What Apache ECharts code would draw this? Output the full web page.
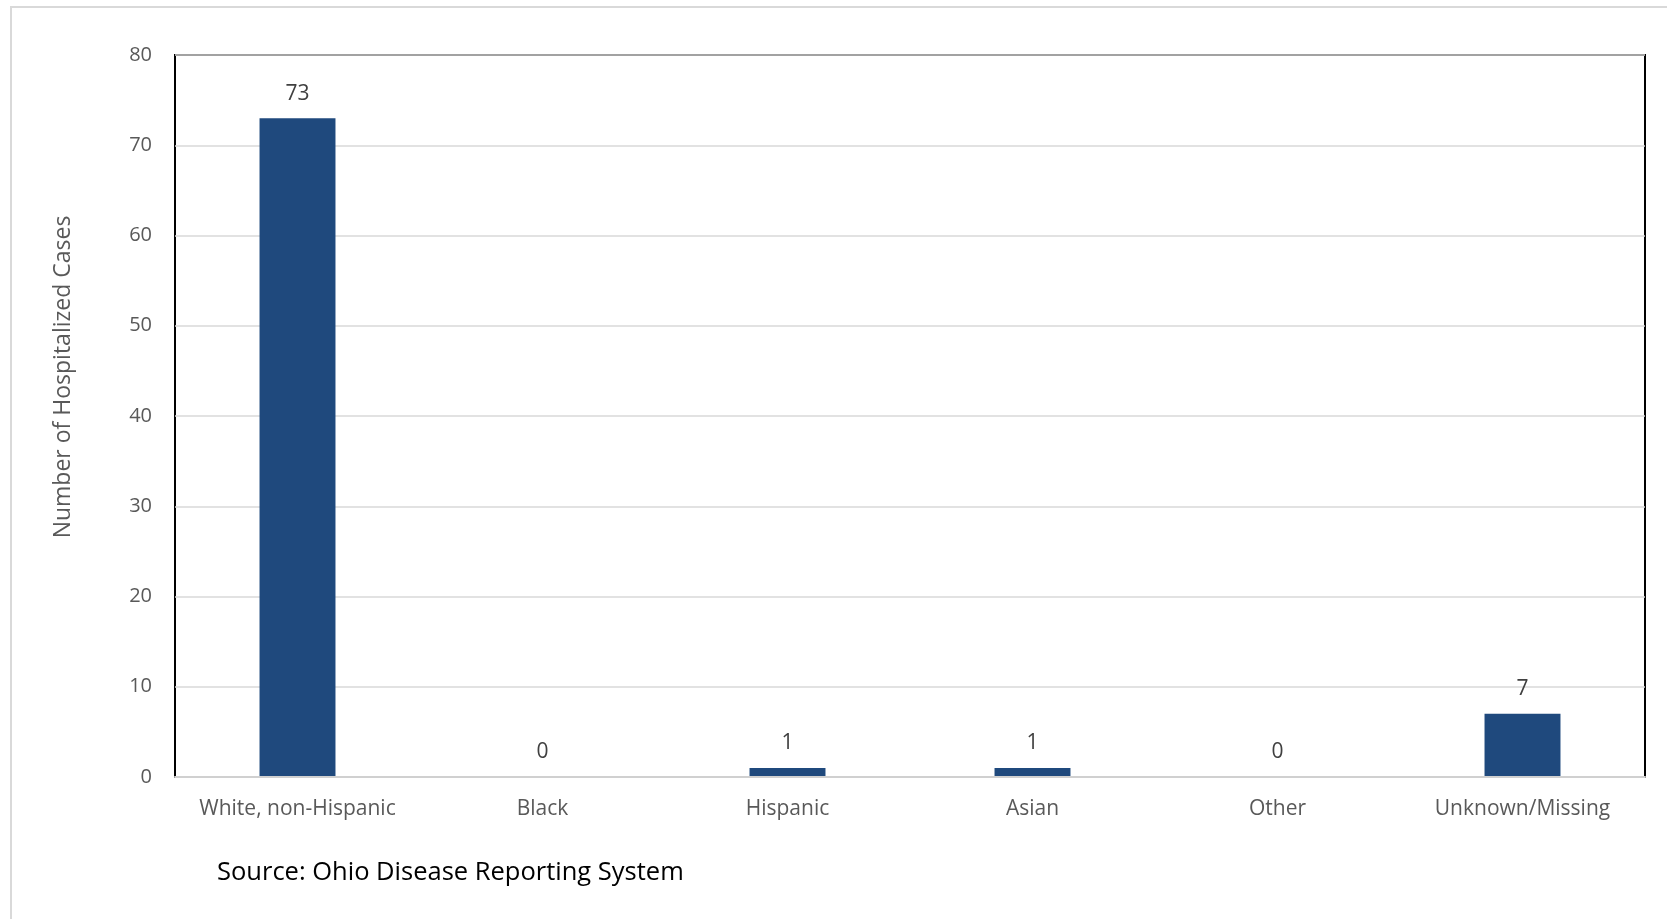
<!DOCTYPE html>
<html>
<head>
<meta charset="utf-8">
<script src="https://cdn.jsdelivr.net/npm/echarts@6/dist/echarts.min.js"></script>
<style>html,body{margin:0;padding:0;background:#fff}#c{width:1667px;height:919px}</style>
</head>
<body>
<div id="c"></div>
<script>
const categories = ["White, non-Hispanic", "Black", "Hispanic", "Asian", "Other", "Unknown/Missing"];
const hospitalized = [73, 0, 1, 1, 0, 7];
const yTicks = { min: 0, max: 80, interval: 10 };
const yAxisTitle = "Number of Hospitalized Cases";
const sourceText = "Source: Ohio Disease Reporting System";

const chart = echarts.init(document.getElementById('c'), null, { renderer: 'canvas' });
const FONT = '"Open Sans", "Noto Sans", sans-serif';
chart.setOption({
  animation: false,
  backgroundColor: '#fff',
  grid: { left: 175, right: 22, top: 55, bottom: 142, show: true, borderColor: '#000', borderWidth: 2, backgroundColor: 'transparent' },
  xAxis: {
    type: 'category', data: categories,
    axisLine: { show: true, lineStyle: { color: '#d0d0d0', width: 2 } },
    axisTick: { show: false },
    axisLabel: { color: '#595959', fontFamily: FONT, fontSize: 21, margin: 22, interval: 0, hideOverlap: false },
    z: 5
  },
  yAxis: {
    type: 'value', min: yTicks.min, max: yTicks.max, interval: yTicks.interval,
    axisLine: { show: false },
    axisTick: { show: false },
    axisLabel: { color: '#595959', fontFamily: FONT, fontSize: 20, margin: 23 },
    splitLine: { show: true, lineStyle: { color: '#d9d9d9', width: 1.5 } }
  },
  series: [{
    type: 'bar', data: hospitalized, barWidth: '31%',
    itemStyle: { color: '#1F497D' },
    label: { show: true, position: 'top', distance: 14, color: '#404040', fontFamily: FONT, fontSize: 21 }
  }],
  graphic: [
    { type: 'rect', shape: { x: 11, y: 7, width: 1700, height: 1000 }, style: { fill: 'none', stroke: '#d9d9d9', lineWidth: 2 }, z: -10, silent: true },
    { type: 'text', x: 63, y: 377, rotation: Math.PI / 2, style: { text: yAxisTitle, fill: '#595959', font: '23px ' + FONT, textAlign: 'center', textVerticalAlign: 'middle' } },
    { type: 'text', left: 217, top: 860, style: { text: sourceText, fill: '#000', font: '25.5px ' + FONT } }
  ]
});
</script>
</body>
</html>
